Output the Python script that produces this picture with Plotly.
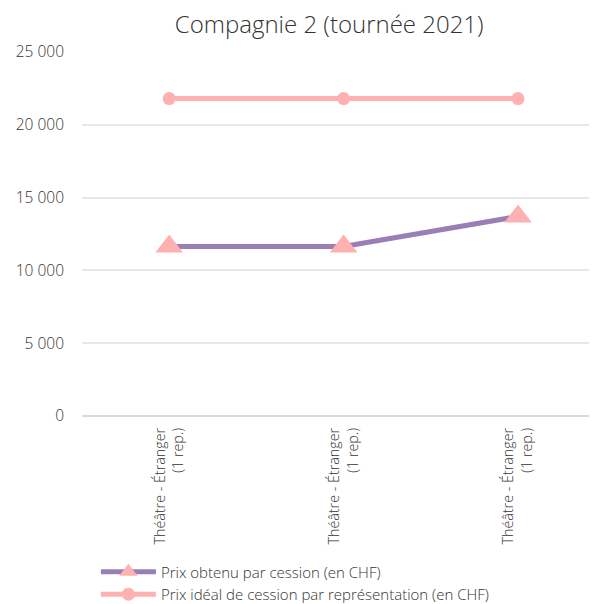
import plotly.graph_objects as go

categories = ["Théâtre - Étranger<br>(1 rep.)", "Théâtre - Étranger<br>(1 rep.)", "Théâtre - Étranger<br>(1 rep.)"]
x_index = [0, 1, 2]
prix_obtenu = [11650, 11650, 13700]
prix_ideal = [21800, 21800, 21800]
y_ticks = [0, 5000, 10000, 15000, 20000, 25000]

FONT = "'Open Sans', sans-serif"
TEXT = "#333333"

fig = go.Figure()

fig.add_trace(go.Scatter(
    x=x_index, y=prix_obtenu,
    name="Prix obtenu par cession (en CHF)",
    mode="lines+markers",
    line=dict(color="#9a7fb6", width=5),
    marker=dict(symbol="triangle-up", size=24, color="#ffb0b0"),
))

fig.add_trace(go.Scatter(
    x=x_index, y=prix_ideal,
    name="Prix idéal de cession par représentation (en CHF)",
    mode="lines+markers",
    line=dict(color="#ffb0b0", width=5),
    marker=dict(symbol="circle", size=13, color="#ffb0b0"),
))

# la page a une marge de 8 px : tout est décalé en conséquence
fig.update_layout(
    width=597, height=604,
    title=dict(text="Compagnie 2 (tournée 2021)", x=0.538, xanchor="center", y=0.972, yanchor="middle",
               font=dict(size=24, color=TEXT, family=FONT, weight=300)),
    plot_bgcolor="white",
    paper_bgcolor="white",
    font=dict(family=FONT, color=TEXT, size=15, weight=300),
    separators=", ",
    margin=dict(t=44, l=74, r=8, b=196, autoexpand=False),
    xaxis=dict(
        tickmode="array", tickvals=x_index, ticktext=categories,
        range=[-0.5, 2.453], tickangle=-90, automargin=False,
        showgrid=False, zeroline=False, showline=False,
        tickfont=dict(size=14.3, color=TEXT, weight=300), ticklabelstandoff=8,
    ),
    yaxis=dict(
        range=[0, 25000], tickmode="array", tickvals=y_ticks,
        tickformat=",d", gridcolor="#e8e5ef", gridwidth=1.5, automargin=False,
        zeroline=True, zerolinecolor="#d9d9d9", zerolinewidth=1.5,
        ticks="", ticklabelstandoff=17,
        tickfont=dict(size=15.5, color=TEXT, weight=300),
    ),
    legend=dict(
        orientation="v", x=0.027, xanchor="left", y=-0.383, yanchor="top",
        font=dict(size=15, color=TEXT, weight=300), tracegroupgap=0, itemwidth=55,
    ),
    showlegend=True,
)

fig.write_html("out.html")
